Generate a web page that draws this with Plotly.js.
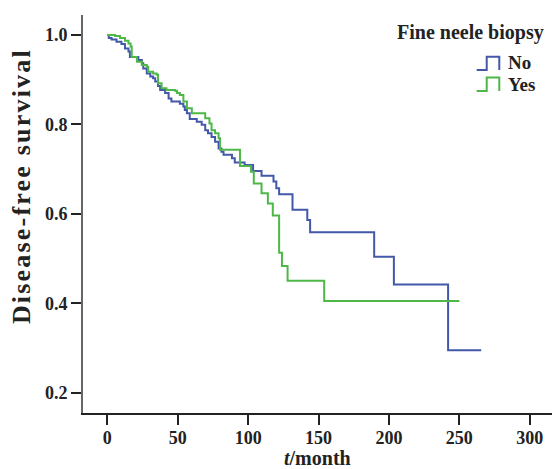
<!DOCTYPE html>
<html>
<head>
<meta charset="utf-8">
<script src="https://cdn.plot.ly/plotly-3.0.1.min.js"></script>
<style>
html,body{margin:0;padding:0;background:#fff;}
#chart{width:552px;height:469px;}
#chart .annotation[data-index="0"] .annotation-text{letter-spacing:2.2px;}
</style>
</head>
<body>
<div id="chart"></div>
<script>
// Kaplan-Meier step data (month, survival)
const timeNo = [0, 1, 3, 6.5, 10, 12.5, 15, 16, 22, 24.5, 25.5, 28, 30.5, 32.5, 34, 36, 37.5, 41, 43.5, 45.5, 51.5, 54, 55, 56.5, 58.5, 63.5, 67, 69.5, 71.5, 74, 76.5, 79, 81, 82.5, 88.5, 90.5, 97.5, 103.5, 109.5, 118, 120, 122, 131.5, 142, 144, 189.5, 203.5, 242, 265.5];
const survNo = [1.0, 0.993, 0.990, 0.985, 0.980, 0.970, 0.963, 0.951, 0.944, 0.937, 0.925, 0.914, 0.907, 0.903, 0.896, 0.886, 0.877, 0.870, 0.858, 0.851, 0.846, 0.840, 0.832, 0.825, 0.812, 0.806, 0.799, 0.787, 0.780, 0.772, 0.761, 0.746, 0.739, 0.732, 0.724, 0.715, 0.709, 0.696, 0.685, 0.672, 0.657, 0.644, 0.609, 0.586, 0.559, 0.504, 0.442, 0.295, 0.295];

const timeYes = [0, 5.5, 9, 12.5, 15, 16.5, 17.3, 21, 24.5, 28, 29, 32.5, 35, 36, 38.5, 42, 48, 49.5, 51.5, 54, 56.5, 60, 69.5, 72.5, 74, 76.5, 79, 80, 94.2, 102, 104, 109.5, 114, 117.5, 122, 124, 128, 154, 250];
const survYes = [1.0, 0.998, 0.993, 0.987, 0.981, 0.974, 0.951, 0.940, 0.933, 0.929, 0.918, 0.914, 0.911, 0.892, 0.881, 0.877, 0.875, 0.870, 0.866, 0.851, 0.836, 0.825, 0.814, 0.802, 0.787, 0.780, 0.769, 0.743, 0.707, 0.694, 0.668, 0.646, 0.623, 0.596, 0.513, 0.483, 0.450, 0.405, 0.405];

const groupNames = ['No', 'Yes'];
const legendTitle = 'Fine neele biopsy';
const xTitle = '<i>t</i>/month';
const yTitle = 'Disease-free survival';
const xTickVals = [0, 50, 100, 150, 200, 250, 300];
const yTickVals = [0.2, 0.4, 0.6, 0.8, 1.0];
const yTickText = ['0.2', '0.4', '0.6', '0.8', '1.0'];

const colors = ['#4358A8', '#4DB848'];
const serif = 'Liberation Serif, Times New Roman, serif';

const traces = [
  {x: timeNo, y: survNo, name: groupNames[0], type: 'scatter', mode: 'lines',
   line: {shape: 'hv', color: colors[0], width: 2}, showlegend: false},
  {x: timeYes, y: survYes, name: groupNames[1], type: 'scatter', mode: 'lines',
   line: {shape: 'hv', color: colors[1], width: 2}, showlegend: false}
];

// custom legend with step-shaped icons (paper coordinates)
function stepIcon(x0, x1, x2, yb, yt, color) {
  return {type: 'path', xref: 'paper', yref: 'paper',
    path: `M ${x0},${yb} L ${x1},${yb} L ${x1},${yt} L ${x2},${yt} L ${x2},${yb}`,
    line: {color: color, width: 2}};
}
const shapes = [
  stepIcon(0.8394, 0.8608, 0.8876, 0.8618, 0.8952, colors[0]),
  stepIcon(0.8394, 0.8608, 0.8876, 0.8090, 0.8430, colors[1])
];
const annotations = [
  {text: yTitle, xref: 'paper', yref: 'paper', x: -0.13, y: 0.5704, xanchor: 'center', yanchor: 'middle',
   textangle: -90, showarrow: false, font: {family: serif, size: 26, color: '#222', weight: 'bold'}},
  {text: legendTitle, xref: 'paper', yref: 'paper', x: 0.987, y: 0.955, xanchor: 'right', yanchor: 'middle',
   showarrow: false, font: {family: serif, size: 20, color: '#222', weight: 'bold'}},
  {text: groupNames[0], xref: 'paper', yref: 'paper', x: 0.902, y: 0.881, xanchor: 'left', yanchor: 'middle',
   showarrow: false, font: {family: serif, size: 19, color: '#222', weight: 'bold'}},
  {text: groupNames[1], xref: 'paper', yref: 'paper', x: 0.902, y: 0.826, xanchor: 'left', yanchor: 'middle',
   showarrow: false, font: {family: serif, size: 19, color: '#222', weight: 'bold'}},
  {text: xTitle, xref: 'paper', yref: 'paper', x: 0.5, y: -0.112, xanchor: 'center', yanchor: 'middle',
   showarrow: false, font: {family: serif, size: 20, color: '#222', weight: 'bold'}}
];

const layout = {
  width: 552, height: 469,
  margin: {l: 83, r: 0, t: 15, b: 56},
  paper_bgcolor: '#fff', plot_bgcolor: '#fff',
  showlegend: false,
  xaxis: {
    range: [-17.3, 315.8], tickvals: xTickVals, showgrid: false, zeroline: false,
    showline: true, linecolor: '#222', linewidth: 2,
    ticks: 'outside', ticklen: 10, tickwidth: 2, tickcolor: '#222',
    ticklabelstandoff: -3,
    tickfont: {family: serif, size: 18, color: '#222', weight: 'bold'}
  },
  yaxis: {
    range: [0.1544, 1.0447], tickvals: yTickVals, ticktext: yTickText, showgrid: false, zeroline: false,
    showline: true, linecolor: '#666', linewidth: 2,
    ticks: 'outside', ticklen: 10, tickwidth: 2, tickcolor: '#222',
    tickfont: {family: serif, size: 18, color: '#222', weight: 'bold'}
  },
  shapes: shapes,
  annotations: annotations
};

Plotly.newPlot('chart', traces, layout, {displayModeBar: false, staticPlot: true});
</script>
</body>
</html>
